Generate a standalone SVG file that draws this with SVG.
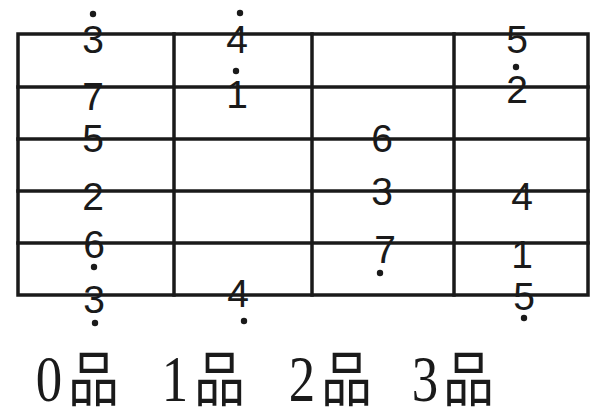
<svg xmlns="http://www.w3.org/2000/svg" width="600" height="420" viewBox="0 0 600 420">
<style>
.ln{stroke:#1a1a1a;stroke-width:3.5;fill:none;stroke-linecap:square}
.n{font-family:"Liberation Sans",Arial,sans-serif;font-size:39px;fill:#1a1a1a;text-anchor:middle}
.d{fill:#1a1a1a}
.lb{font-family:"Liberation Serif",serif;font-size:66px;fill:#1a1a1a;text-anchor:middle}
.cj{font-family:"Noto Sans CJK SC",sans-serif;font-size:60px;fill:#1a1a1a;text-anchor:middle}
</style>
<rect width="600" height="420" fill="#ffffff"/>
<g id="grid">
<rect class="ln" x="18" y="34" width="570" height="261"/>
<line class="ln" x1="18" y1="87" x2="588" y2="87"/>
<line class="ln" x1="18" y1="139" x2="588" y2="139"/>
<line class="ln" x1="18" y1="191" x2="588" y2="191"/>
<line class="ln" x1="18" y1="243" x2="588" y2="243"/>
<line class="ln" x1="174" y1="34" x2="174" y2="295"/>
<line class="ln" x1="312" y1="34" x2="312" y2="295"/>
<line class="ln" x1="454" y1="34" x2="454" y2="295"/>
</g>
<g id="fret0">
<text class="n" x="93" y="53">3</text><circle class="d" cx="93" cy="14" r="3.2"/>
<text class="n" x="93" y="110">7</text>
<text class="n" x="93" y="152">5</text>
<text class="n" x="93" y="210">2</text>
<text class="n" x="94" y="258">6</text><circle class="d" cx="94" cy="267" r="3.2"/>
<text class="n" x="94" y="313">3</text><circle class="d" cx="95" cy="323" r="3.2"/>
</g>
<g id="fret1">
<text class="n" x="237" y="53">4</text><circle class="d" cx="240" cy="13" r="3.2"/>
<text class="n" x="237" y="108">1</text><circle class="d" cx="236" cy="71" r="3.2"/>
<text class="n" x="238" y="307">4</text><circle class="d" cx="244" cy="321" r="3.2"/>
</g>
<g id="fret2">
<text class="n" x="382" y="152">6</text>
<text class="n" x="382" y="205">3</text>
<text class="n" x="385" y="263">7</text><circle class="d" cx="380" cy="273" r="3.2"/>
</g>
<g id="fret3">
<text class="n" x="517" y="53">5</text>
<text class="n" x="517" y="103">2</text><circle class="d" cx="516" cy="67" r="3.2"/>
<text class="n" x="522" y="210">4</text>
<text class="n" x="522" y="268">1</text>
<text class="n" x="524" y="310">5</text><circle class="d" cx="524" cy="318" r="3.2"/>
</g>
<g id="labels">
<text class="lb" transform="translate(49,401) scale(0.8,1)">0</text>
<text class="cj" transform="translate(93.5,401) scale(0.85,1)">品</text>
<text class="lb" transform="translate(175,401) scale(0.8,1)">1</text>
<text class="cj" transform="translate(219.5,401) scale(0.85,1)">品</text>
<text class="lb" transform="translate(302,401) scale(0.8,1)">2</text>
<text class="cj" transform="translate(346.5,401) scale(0.85,1)">品</text>
<text class="lb" transform="translate(425,401) scale(0.8,1)">3</text>
<text class="cj" transform="translate(468.5,401) scale(0.85,1)">品</text>
</g>
</svg>
